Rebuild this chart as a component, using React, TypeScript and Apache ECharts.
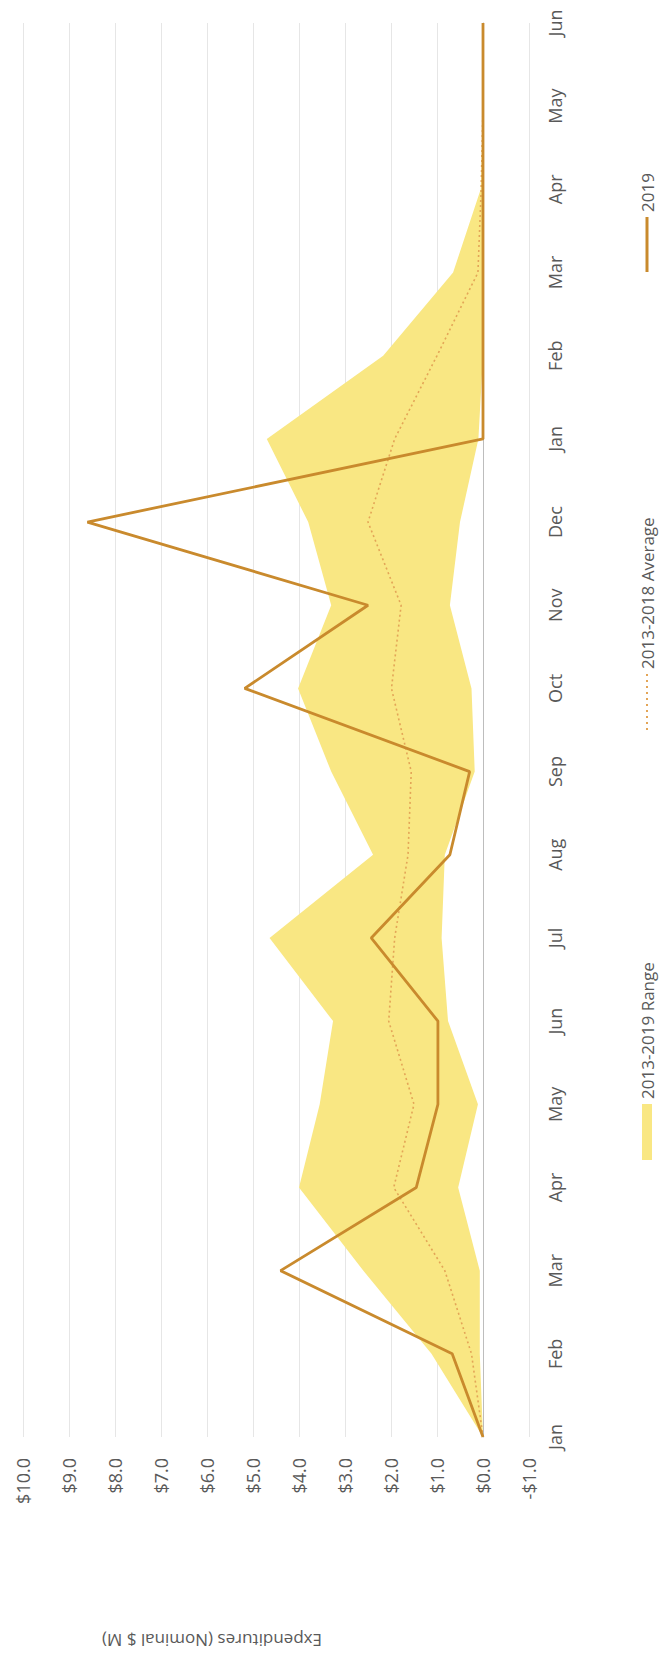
import React, { useEffect, useRef } from "react";
import * as echarts from "echarts";

// Months from January of the first year through June of the next
const months = [
  "Jan", "Feb", "Mar", "Apr", "May", "Jun", "Jul", "Aug", "Sep", "Oct", "Nov", "Dec",
  "Jan", "Feb", "Mar", "Apr", "May", "Jun",
];

// Expenditures, $ millions (nominal)
const spend2019 = [0, 0.67, 4.4, 1.45, 0.98, 0.98, 2.43, 0.72, 0.29, 5.18, 2.5, 8.6, 0, 0, 0, 0, 0, 0];
const average2013to2018 = [0, 0.25, 0.83, 1.94, 1.5, 2.05, 1.92, 1.63, 1.56, 1.99, 1.78, 2.5, 1.92, 1.0, 0.11, 0.04, 0, 0];
const rangeMin = [0, 0.07, 0.07, 0.54, 0.11, 0.76, 0.9, 0.83, 0.18, 0.25, 0.72, 0.5, 0.1, 0, 0, 0, 0, 0];
const rangeMax = [0, 1.12, 2.6, 4.0, 3.55, 3.26, 4.64, 2.39, 3.3, 4.02, 3.3, 3.8, 4.7, 2.17, 0.65, 0.05, 0, 0];

const valueTicks = { min: -1, max: 10, interval: 1 };

const FONT = '"Open Sans", "Liberation Sans", sans-serif';
const TEXT = "#595959";
const YELLOW = "#F9E783";
const LINE_2019 = "#C98A2D";
const LINE_AVG = "#E3A557";

// Dotted legend key: ten small squares in a row
const DOTTED_KEY =
  "path://" +
  Array.from({ length: 10 }, (_, i) => `M${i * 6},0h2v2h-2z`).join(" ");

const W = 1659;
const H = 663;
const LEGEND_TOP = 638.5;

export default function App() {
  const ref = useRef<HTMLDivElement>(null);

  useEffect(() => {
    if (!ref.current) return;
    const chart = echarts.init(ref.current, undefined, { renderer: "svg" });
    const span = rangeMax.map((v, i) => +(v - rangeMin[i]).toFixed(3));

    const legendText = { color: TEXT, fontSize: 17, fontFamily: FONT };

    chart.setOption({
      animation: false,
      backgroundColor: "#ffffff",
      grid: { left: 222, right: 23, top: 23, bottom: 134, containLabel: false },
      xAxis: {
        type: "category",
        data: months,
        boundaryGap: false,
        axisLine: { onZero: true, lineStyle: { color: "#BDBDBD", width: 1 } },
        axisTick: { show: false },
        axisLabel: { color: TEXT, fontSize: 18, fontFamily: FONT, margin: 17, interval: 0 },
        splitLine: { show: false },
      },
      yAxis: {
        type: "value",
        min: valueTicks.min,
        max: valueTicks.max,
        interval: valueTicks.interval,
        axisLine: { show: false },
        axisTick: { show: false },
        axisLabel: {
          color: TEXT,
          fontSize: 18,
          fontFamily: FONT,
          margin: 21,
          formatter: (v: number) => (v < 0 ? "-$" + Math.abs(v).toFixed(1) : "$" + v.toFixed(1)),
        },
        splitLine: { lineStyle: { color: "#E6E6E6", width: 1 } },
      },
      legend: [
        {
          data: [{ name: "2013-2019 Range", icon: "rect" }],
          left: 499,
          top: LEGEND_TOP,
          padding: 0,
          itemWidth: 56,
          itemHeight: 10,
          textStyle: legendText,
          selectedMode: false,
        },
        {
          data: [{ name: "2013-2018 Average", icon: DOTTED_KEY }],
          left: 929,
          top: LEGEND_TOP,
          padding: 0,
          itemWidth: 56,
          itemHeight: 2,
          textStyle: legendText,
          selectedMode: false,
        },
        {
          data: [{ name: "2019", icon: "rect" }],
          left: 1387,
          top: LEGEND_TOP,
          padding: 0,
          itemWidth: 55,
          itemHeight: 3,
          textStyle: legendText,
          selectedMode: false,
        },
      ],
      graphic: [
        {
          type: "text",
          x: 19,
          y: 212,
          rotation: Math.PI / 2,
          style: {
            text: "Expenditures (Nominal $ M)",
            fill: TEXT,
            fontSize: 17,
            fontFamily: FONT,
            align: "center",
            verticalAlign: "middle",
          },
        },
      ],
      series: [
        {
          name: "rangeBase",
          type: "line",
          stack: "range",
          data: rangeMin,
          symbol: "none",
          silent: true,
          lineStyle: { width: 0, opacity: 0 },
        },
        {
          name: "2013-2019 Range",
          type: "line",
          stack: "range",
          data: span,
          symbol: "none",
          silent: true,
          itemStyle: { color: YELLOW },
          lineStyle: { width: 0, opacity: 0 },
          areaStyle: { color: YELLOW, opacity: 1 },
        },
        {
          name: "2013-2018 Average",
          type: "line",
          data: average2013to2018,
          symbol: "none",
          itemStyle: { color: LINE_AVG },
          lineStyle: { color: LINE_AVG, width: 1.6, type: [2, 3] },
        },
        {
          name: "2019",
          type: "line",
          data: spend2019,
          symbol: "none",
          itemStyle: { color: LINE_2019 },
          lineStyle: { color: LINE_2019, width: 2.8 },
        },
      ],
    });

    return () => chart.dispose();
  }, []);

  return (
    <div
      style={{
        position: "absolute",
        left: 0,
        top: 0,
        width: H,
        height: W,
        overflow: "hidden",
        background: "#ffffff",
      }}
    >
      <div
        ref={ref}
        style={{
          position: "absolute",
          left: 0,
          top: 0,
          width: W,
          height: H,
          transformOrigin: "0 0",
          transform: `translateY(${W}px) rotate(-90deg)`,
        }}
      />
    </div>
  );
}
